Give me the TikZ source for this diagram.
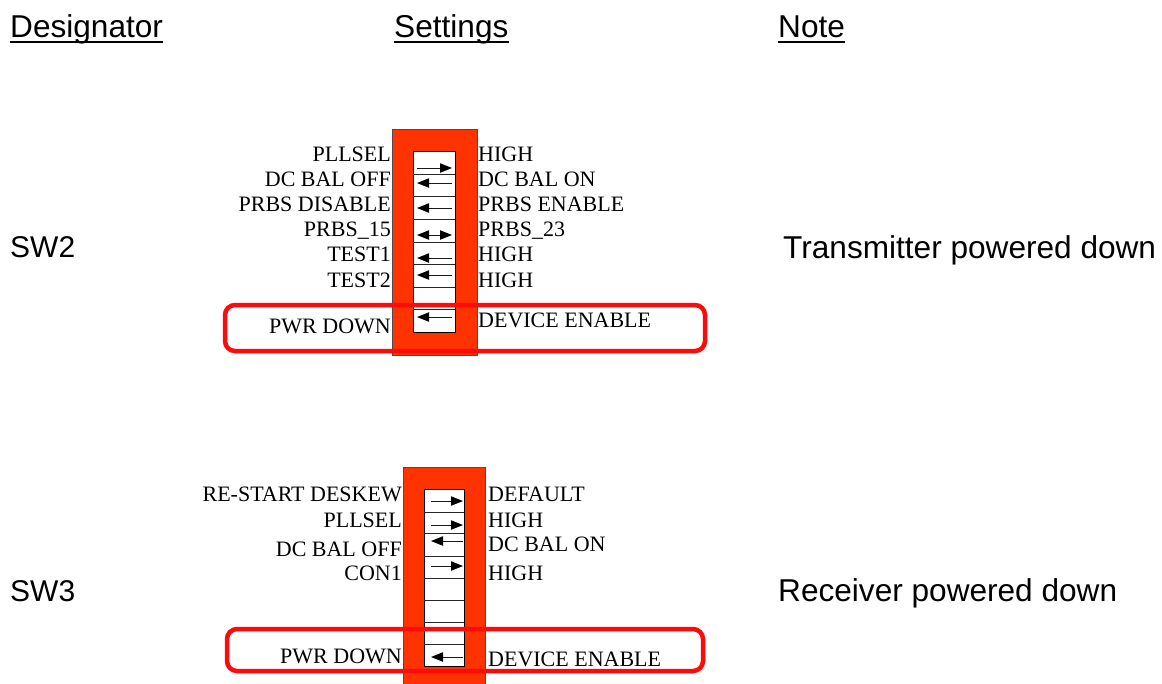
\documentclass[tikz,border=0pt]{standalone}
\usepackage{fontspec}
\setmainfont{Liberation Serif}
\newfontfamily\arialfont{Liberation Sans}
\definecolor{housingC}{HTML}{FF3300}
\definecolor{hlC}{HTML}{FF0A0A}
% right-pointing lever: #1 tail x, #2 head x (#1<#2), #3 y
\newcommand{\rlever}[3]{%
  \draw[lever] (#1,#3) -- (#2-8,#3);
  \fill[leverhead] (#2,#3) -- (#2-12,#3-4.8) -- (#2-12,#3+4.8) -- cycle;}
% left-pointing lever: #1 head x, #2 tail x (#1<#2), #3 y
\newcommand{\llever}[3]{%
  \draw[lever] (#2,#3) -- (#1+8,#3);
  \fill[leverhead] (#1,#3) -- (#1+12,#3-4.8) -- (#1+12,#3+4.8) -- cycle;}
\begin{document}
\begin{tikzpicture}[x=1pt,y=-1pt,
  lbl/.style={font=\fontsize{22}{24}\selectfont, inner sep=0pt},
  lblL/.style={lbl, anchor=base east},
  lblR/.style={lbl, anchor=base west},
  hdr/.style={font=\arialfont\fontsize{31.6}{34}\selectfont, inner sep=0pt, anchor=base west},
  swname/.style={font=\arialfont\fontsize{30}{32}\selectfont, inner sep=0pt, anchor=base west},
  housing/.style={fill=housingC, draw=black!70, line width=0.8pt},
  slot/.style={fill=white, draw=black, line width=1pt},
  rowsep/.style={draw=black!85, line width=0.9pt},
  lever/.style={line width=1pt, draw=black!90},
  leverhead/.style={fill=black},
  hilite/.style={draw=hlC, line width=4.5pt, rounded corners=10pt},
  uline/.style={line width=2.4pt}]
\useasboundingbox (0,0) rectangle (1162,683);

% headers
\node[hdr] (hdes) at (10,37) {Designator};
\node[hdr] (hset) at (394,37) {Settings};
\node[hdr] (hnote) at (778,37) {Note};
\foreach \n in {hdes,hset,hnote}
  \draw[uline] ([yshift=-5pt]\n.base west) -- ([yshift=-5pt]\n.base east);

% designators and notes
\node[swname] (sw2) at (10,257) {SW2};
\node[swname] (sw3) at (10,601) {SW3};
\node[hdr] (n2) at (783,258) {Transmitter powered down};
\node[hdr] (n3) at (778,601) {Receiver powered down};

% ---------------- SW2 ----------------
\draw[housing] (392,129) rectangle (477,355);
\draw[slot] (413,151) rectangle (455,332);
\foreach \y in {174,196,219,242,264,287,309}
  \draw[rowsep] (413,\y) -- (455,\y);
\rlever{417}{452}{168}
\llever{417}{452}{183}
\llever{417}{452}{208}
\draw[lever] (425,235) -- (444,235);
\fill[leverhead] (417,235) -- (429,230.2) -- (429,239.8) -- cycle;
\fill[leverhead] (452,235) -- (440,230.2) -- (440,239.8) -- cycle;
\llever{417}{452}{258}
\llever{417}{452}{275}
\llever{417}{452}{317}

\node[lblL] (a1) at (391,161) {PLLSEL};
\node[lblL] (a2) at (391,186) {DC BAL OFF};
\node[lblL] (a3) at (391,211) {PRBS DISABLE};
\node[lblL] (a4) at (391,236) {PRBS\_15};
\node[lblL] (a5) at (391,261) {TEST1};
\node[lblL] (a6) at (391,287) {TEST2};
\node[lblL] (a7) at (391,333) {PWR DOWN};
\node[lblR] (b1) at (478,161) {HIGH};
\node[lblR] (b2) at (478,186) {DC BAL ON};
\node[lblR] (b3) at (478,211) {PRBS ENABLE};
\node[lblR] (b4) at (478,236) {PRBS\_23};
\node[lblR] (b5) at (478,261) {HIGH};
\node[lblR] (b6) at (478,287) {HIGH};
\node[lblR] (b7) at (478,327) {DEVICE ENABLE};

\draw[hilite] (225,305) rectangle (705,351);

% ---------------- SW3 ----------------
\draw[housing] (403,467) rectangle (485,690);
\draw[slot] (424,489) rectangle (464,666);
\foreach \y in {512,533,556,578,600,622,644}
  \draw[rowsep] (424,\y) -- (464,\y);
\rlever{431}{463}{501}
\rlever{431}{463}{525}
\llever{431}{463}{541}
\rlever{431}{463}{566}
\llever{431}{463}{657}

\node[lblL] (c1) at (402,501) {RE-START DESKEW};
\node[lblL] (c2) at (402,527) {PLLSEL};
\node[lblL] (c3) at (402,556) {DC BAL OFF};
\node[lblL] (c4) at (402,580) {CON1};
\node[lblL] (c5) at (402,663) {PWR DOWN};
\node[lblR] (d1) at (488,501) {DEFAULT};
\node[lblR] (d2) at (488,527) {HIGH};
\node[lblR] (d3) at (488,551) {DC BAL ON};
\node[lblR] (d4) at (488,580) {HIGH};
\node[lblR] (d5) at (488,666) {DEVICE ENABLE};

\draw[hilite] (227,629) rectangle (703,671);
\end{tikzpicture}
\end{document}
